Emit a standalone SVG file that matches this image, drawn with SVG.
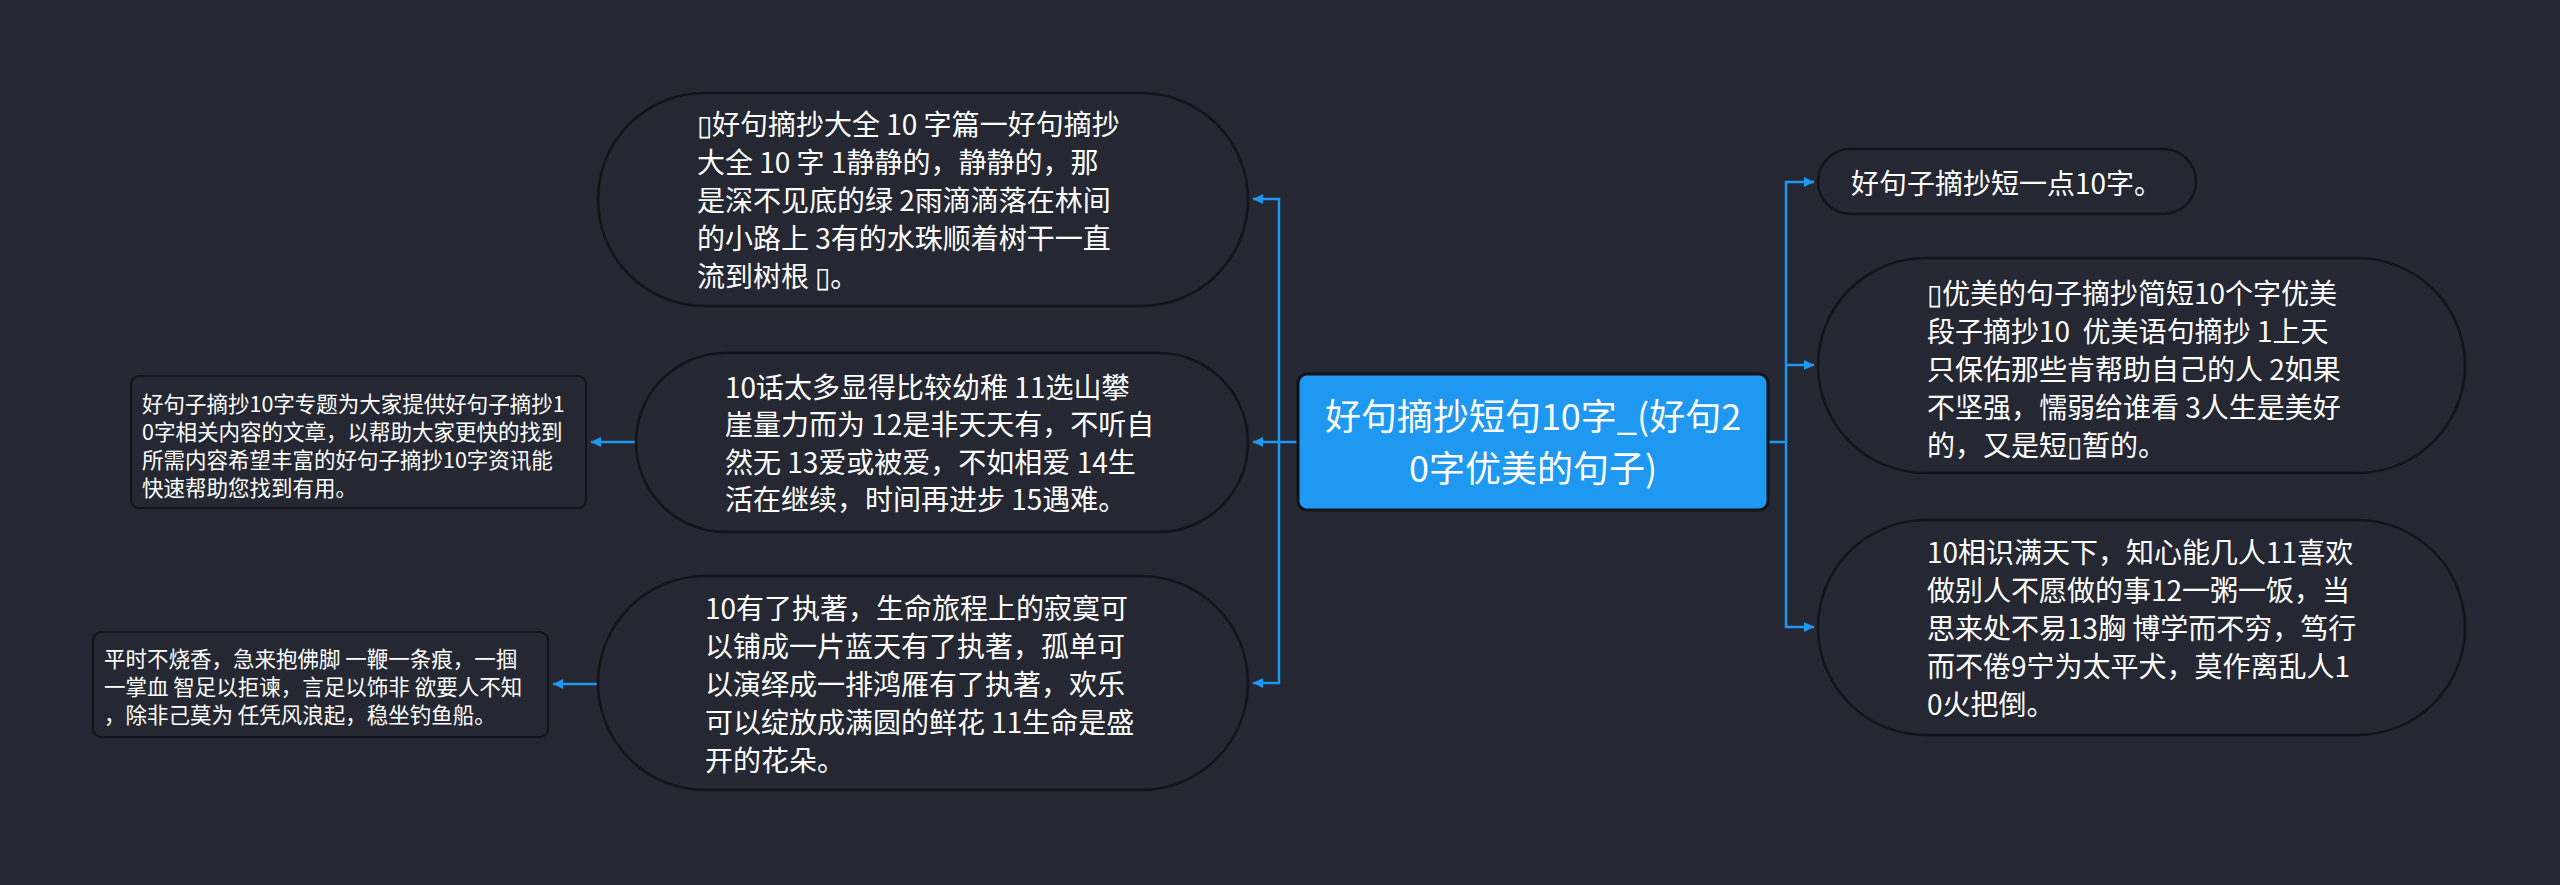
<svg xmlns="http://www.w3.org/2000/svg" width="2560" height="885" viewBox="0 0 2560 885">
<style>
.bg{fill:#252832}
.pill{fill:#252832;stroke:#121318;stroke-width:2.5}
.box{fill:#252832;stroke:#121318;stroke-width:2}
.root{fill:#1E98F0;stroke:#121318;stroke-width:3}
.t{font-family:"Noto Sans CJK SC","Noto Sans",sans-serif;fill:#ffffff;font-size:28px;dominant-baseline:central;white-space:pre}
.s{font-size:21.5px}
.r{font-size:36px;text-anchor:middle}
.c{fill:none;stroke:#1E98F0;stroke-width:2.5}
</style>
<defs>
<marker id="ah" viewBox="0 0 10 10" refX="10" refY="5" markerWidth="10" markerHeight="10" markerUnits="userSpaceOnUse" orient="auto">
<path d="M0,0 L10,5 L0,10 Z" fill="#1E98F0"/>
</marker>
</defs>
<rect class="bg" x="0" y="0" width="2560" height="885"/>
<g id="connectors">
<path class="c" d="M1298,442 H1279 V199 H1253" marker-end="url(#ah)"/>
<path class="c" d="M1279,442 H1253" marker-end="url(#ah)"/>
<path class="c" d="M1279,442 V683 H1253" marker-end="url(#ah)"/>
<path class="c" d="M1768,442 H1786 V182 H1814" marker-end="url(#ah)"/>
<path class="c" d="M1786,365 H1814" marker-end="url(#ah)"/>
<path class="c" d="M1786,442 V627 H1814" marker-end="url(#ah)"/>
<path class="c" d="M636,442 H591" marker-end="url(#ah)"/>
<path class="c" d="M598,684 H553" marker-end="url(#ah)"/>
</g>
<g id="root">
<rect class="root" x="1298" y="374" width="470" height="136" rx="9"/>
<text class="t r" x="1533" y="414">好句摘抄短句10字_(好句2</text>
<text class="t r" x="1533" y="466">0字优美的句子)</text>
</g>
<g id="L1">
<rect class="pill" x="598" y="93" width="650" height="213" rx="106.5"/>
<text class="t" x="697" y="123">▯好句摘抄大全 10 字篇一好句摘抄</text>
<text class="t" x="697" y="161">大全 10 字 1静静的，静静的，那</text>
<text class="t" x="697" y="199">是深不见底的绿 2雨滴滴落在林间</text>
<text class="t" x="697" y="237">的小路上 3有的水珠顺着树干一直</text>
<text class="t" x="697" y="275">流到树根 ▯。</text>
</g>
<g id="L2">
<rect class="pill" x="636" y="353" width="612" height="179" rx="89.5"/>
<text class="t" x="725" y="386">10话太多显得比较幼稚 11选山攀</text>
<text class="t" x="725" y="423">崖量力而为 12是非天天有，不听自</text>
<text class="t" x="725" y="461">然无 13爱或被爱，不如相爱 14生</text>
<text class="t" x="725" y="498">活在继续，时间再进步 15遇难。</text>
</g>
<g id="L3">
<rect class="pill" x="598" y="576" width="650" height="214" rx="107"/>
<text class="t" x="705" y="607">10有了执著，生命旅程上的寂寞可</text>
<text class="t" x="705" y="645">以铺成一片蓝天有了执著，孤单可</text>
<text class="t" x="705" y="683">以演绎成一排鸿雁有了执著，欢乐</text>
<text class="t" x="705" y="721">可以绽放成满圆的鲜花 11生命是盛</text>
<text class="t" x="705" y="759">开的花朵。</text>
</g>
<g id="FL1">
<rect class="box" x="131" y="376" width="455" height="132" rx="8"/>
<text class="t s" x="142" y="402">好句子摘抄10字专题为大家提供好句子摘抄1</text>
<text class="t s" x="142" y="430">0字相关内容的文章，以帮助大家更快的找到</text>
<text class="t s" x="142" y="458">所需内容希望丰富的好句子摘抄10字资讯能</text>
<text class="t s" x="142" y="486">快速帮助您找到有用。</text>
</g>
<g id="FL2">
<rect class="box" x="93" y="632" width="455" height="105" rx="8"/>
<text class="t s" x="104" y="657">平时不烧香，急来抱佛脚 一鞭一条痕，一掴</text>
<text class="t s" x="104" y="685">一掌血 智足以拒谏，言足以饰非 欲要人不知</text>
<text class="t s" x="104" y="713">，除非己莫为 任凭风浪起，稳坐钓鱼船。</text>
</g>
<g id="R1">
<rect class="pill" x="1818" y="149" width="378" height="65" rx="32.5"/>
<text class="t" x="1851" y="182">好句子摘抄短一点10字。</text>
</g>
<g id="R2">
<rect class="pill" x="1818" y="258" width="647" height="215" rx="107.5"/>
<text class="t" x="1927" y="292">▯优美的句子摘抄简短10个字优美</text>
<text class="t" x="1927" y="330">段子摘抄10  优美语句摘抄 1上天</text>
<text class="t" x="1927" y="368">只保佑那些肯帮助自己的人 2如果</text>
<text class="t" x="1927" y="406">不坚强，懦弱给谁看 3人生是美好</text>
<text class="t" x="1927" y="444">的，又是短▯暂的。</text>
</g>
<g id="R3">
<rect class="pill" x="1818" y="520" width="647" height="215" rx="107.5"/>
<text class="t" x="1927" y="551">10相识满天下，知心能几人11喜欢</text>
<text class="t" x="1927" y="589">做别人不愿做的事12一粥一饭，当</text>
<text class="t" x="1927" y="627">思来处不易13胸 博学而不穷，笃行</text>
<text class="t" x="1927" y="665">而不倦9宁为太平犬，莫作离乱人1</text>
<text class="t" x="1927" y="703">0火把倒。</text>
</g>
</svg>
